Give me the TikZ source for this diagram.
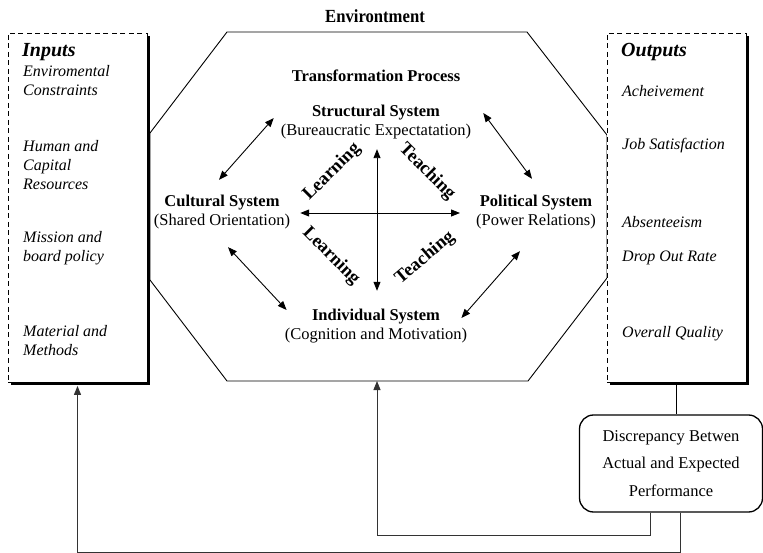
\documentclass[tikz,border=0pt]{standalone}
\usepackage{fontspec}
\setmainfont{Liberation Serif}
\usetikzlibrary{arrows.meta,shadows}
\begin{document}
\begin{tikzpicture}[x=1pt,y=-1pt,
  every node/.style={font=\fontsize{16.5}{19}\selectfont, inner sep=0pt},
  lst/.style={anchor=west, font=\fontsize{16}{19}\selectfont\itshape, align=left},
  head/.style={anchor=west, font=\fontsize{20}{22}\selectfont\bfseries\itshape},
  sysnode/.style={align=center, font=\fontsize{16.5}{19}\selectfont},
  rot/.style={font=\fontsize{18.5}{20}\selectfont\bfseries},
  iobox/.style={draw, line width=0.8pt, dash pattern=on 5pt off 3.5pt, fill=white,
    minimum width=139pt, minimum height=349pt,
    drop shadow={shadow xshift=3pt, shadow yshift=-3pt, fill=black, opacity=1}},
  dbl/.style={{Triangle[length=9pt,width=7pt]}-{Triangle[length=9pt,width=7pt]}, line width=0.9pt},
  fb/.style={-{Triangle[length=9pt,width=7pt]}, line width=0.9pt, draw=black!80},
  discbox/.style={draw, line width=1.3pt, rounded corners=14pt, minimum width=183pt,
    minimum height=97pt, align=center, font=\fontsize{16.5}{27.5}\selectfont}
]
\useasboundingbox (0,0) rectangle (763,553);

% environment octagon
\draw[line width=0.9pt] (227,32) -- (527,32) -- (607,135) -- (607,278) -- (528,381)
  -- (227,381) -- (150,280) -- (150,133) -- cycle;
\coordinate (octb) at (377,381);
\node[font=\fontsize{18.5}{20}\selectfont\bfseries, xscale=0.9] (env) at (375,16) {Environtment};

% input / output boxes
\node[iobox] (in) at (77.5,207.5) {};
\node[iobox] (out) at (676.5,207.5) {};

\node[head] (inh) at (22,52) {Inputs};
\node[lst] (i1) at (23,81) {Enviromental\\Constraints};
\node[lst] (i2) at (23,165) {Human and\\Capital\\Resources};
\node[lst] (i3) at (23,248.5) {Mission and\\board policy};
\node[lst] (i4) at (23,341) {Material and\\Methods};

\node[head] (outh) at (621,52) {Outputs};
\node[lst] (o1) at (622,91) {Acheivement};
\node[lst] (o2) at (622,146) {Job Satisfaction};
\node[lst] (o3) at (622,222) {Absenteeism};
\node[lst] (o4) at (622,258) {Drop Out Rate};
\node[lst] (o5) at (622,334) {Overall Quality};

% transformation process
\node[font=\fontsize{16.5}{19}\selectfont\bfseries] (tp) at (376,76) {Transformation Process};
\node[sysnode] (struct) at (376,122) {\textbf{Structural System}\\(Bureaucratic Expectatation)};
\node[sysnode] (cult) at (222,212) {\textbf{Cultural System}\\(Shared Orientation)};
\node[sysnode] (pol) at (536,212) {\textbf{Political System}\\(Power Relations)};
\node[sysnode] (ind) at (376,326) {\textbf{Individual System}\\(Cognition and Motivation)};

\draw[dbl] ([shift={(-7,-4)}]struct.west) -- ([shift={(-3,-15)}]cult.north);
\draw[dbl] ([shift={(12,-9)}]struct.east) -- ([shift={(-4,-16)}]pol.north);
\draw[dbl] ([shift={(6,18)}]cult.south) -- ([shift={(2,-16)}]ind.west);
\draw[dbl] ([shift={(-16,22)}]pol.south) -- ([shift={(-6,-8)}]ind.east);
\draw[dbl] ([shift={(1,10)}]struct.south) -- ([shift={(1,-18)}]ind.north);
\draw[dbl] ([shift={(10,1)}]cult.east) -- ([shift={(-16,1)}]pol.west);

\node[rot, rotate=45] (l1) at (332,172) {Learning};
\node[rot, rotate=-45] (t1) at (427,172) {Teaching};
\node[rot, rotate=-45] (l2) at (331,256) {Learning};
\node[rot, rotate=40] (t2) at (425,258) {Teaching};

% discrepancy and feedback
\node[discbox] (disc) at (671,463.5) {Discrepancy Betwen\\Actual and Expected\\Performance};
\draw[line width=0.9pt] ([yshift=-3pt]out.south) -- (out.south |- disc.north);
\draw[fb] ([xshift=-21pt]disc.south) -- ++(0,23) -| (octb);
\draw[fb] ([xshift=9pt]disc.south) -- ++(0,40) -| ([yshift=-3.5pt]in.south);
\end{tikzpicture}
\end{document}
